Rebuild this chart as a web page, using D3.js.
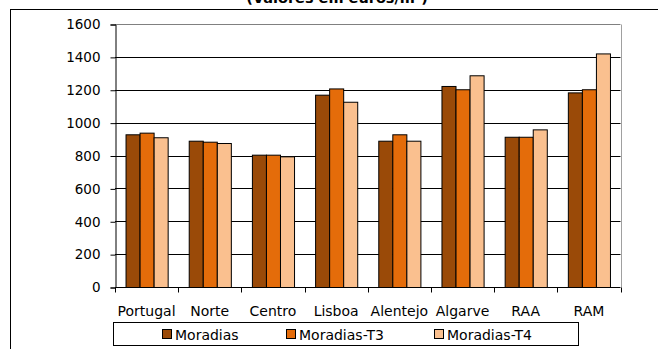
<!DOCTYPE html>
<html>
<head>
<meta charset="utf-8">
<script src="https://cdn.jsdelivr.net/npm/d3@7"></script>
<style>
  body { margin: 0; background: #fff; }
  svg { display: block; font-family: "DejaVu Sans", Verdana, sans-serif; }
</style>
</head>
<body>
<svg id="chart"></svg>
<script>
// dados
var regioes = ["Portugal", "Norte", "Centro", "Lisboa", "Alentejo", "Algarve", "RAA", "RAM"];
var series = ["Moradias", "Moradias-T3", "Moradias-T4"];
var moradias   = [929, 890, 805, 1170, 890, 1223, 914, 1184];
var moradiasT3 = [939, 884, 805, 1208, 929, 1203, 914, 1203];
var moradiasT4 = [911, 876, 795, 1127, 890, 1288, 959, 1421];
var yTicks = [0, 200, 400, 600, 800, 1000, 1200, 1400, 1600];
var cores = ["#9a4a08", "#e46c0a", "#fac08f"];

var width = 658;
var height = 349;
var margin = {top: 24, right: 37.5, bottom: 62, left: 115};

var svg = d3.select("#chart")
    .attr("width", width)
    .attr("height", height);

// moldura exterior
svg.append("rect")
    .attr("x", 10.5).attr("y", 9.5)
    .attr("width", 700).attr("height", 400)
    .attr("fill", "none").attr("stroke", "#000");

// título (cortado no topo)
svg.append("text")
    .attr("x", 337).attr("y", 3)
    .attr("text-anchor", "middle")
    .attr("font-weight", "bold")
    .attr("font-size", 14.5)
    .text("(Valores em euros/m²)");

var x0 = d3.scaleBand()
    .domain(regioes)
    .range([margin.left, width - margin.right])
    .paddingInner(1 / 3)
    .paddingOuter(1 / 6);

var x1 = d3.scaleBand()
    .domain(series)
    .range([0, x0.bandwidth()]);

var y = d3.scaleLinear()
    .domain([0, 1600])
    .range([height - margin.bottom, margin.top]);

// linhas de grelha
svg.append("g")
    .selectAll("line")
    .data(yTicks.slice(1))
    .join("line")
    .attr("x1", margin.left).attr("x2", width - margin.right)
    .attr("y1", d => Math.round(y(d)) + 0.5).attr("y2", d => Math.round(y(d)) + 0.5)
    .attr("stroke", d => d === 1600 ? "#808080" : "#000");

// borda direita da área do gráfico
svg.append("line")
    .attr("x1", Math.round(width - margin.right) + 0.5).attr("x2", Math.round(width - margin.right) + 0.5)
    .attr("y1", Math.round(y(1600)) + 0.5).attr("y2", Math.round(y(0)) + 0.5)
    .attr("stroke", "#a0a0a0");

// barras
var rows = regioes.map((r, i) => ({regiao: r, valores: [moradias[i], moradiasT3[i], moradiasT4[i]]}));

svg.append("g")
    .selectAll("g")
    .data(rows)
    .join("g")
    .attr("transform", d => `translate(${x0(d.regiao)},0)`)
    .selectAll("rect")
    .data(d => d.valores.map((v, k) => ({serie: series[k], valor: v, k: k})))
    .join("rect")
    .attr("x", d => x1(d.serie) + 0.5)
    .attr("y", d => y(d.valor) + 0.5)
    .attr("width", x1.bandwidth())
    .attr("height", d => y(0) - y(d.valor))
    .attr("fill", d => cores[d.k])
    .attr("stroke", "#000")
    .attr("stroke-width", 1);

// eixo y
var yAxis = svg.append("g")
    .attr("transform", `translate(${Math.round(margin.left) + 0.5},0.5)`)
    .call(d3.axisLeft(y).tickValues(yTicks).tickSize(5).tickPadding(10).tickFormat(d3.format("d")));
yAxis.selectAll("text").attr("font-size", 13.5).attr("fill", "#000").attr("font-family", "DejaVu Sans, sans-serif");
yAxis.selectAll("line, path").attr("stroke", "#000");

// eixo x: marcas entre as categorias
var baseY = Math.round(y(0)) + 0.5;
svg.append("line")
    .attr("x1", margin.left).attr("x2", width - margin.right)
    .attr("y1", baseY).attr("y2", baseY)
    .attr("stroke", "#000");

svg.append("g")
    .selectAll("line")
    .data(d3.range(regioes.length + 1))
    .join("line")
    .attr("x1", i => Math.round(x0.range()[0] + i * x0.step()) + 0.5)
    .attr("x2", i => Math.round(x0.range()[0] + i * x0.step()) + 0.5)
    .attr("y1", baseY).attr("y2", baseY + 5)
    .attr("stroke", "#000");

svg.append("g")
    .selectAll("text")
    .data(regioes)
    .join("text")
    .attr("x", d => x0(d) + x0.bandwidth() / 2)
    .attr("y", 316)
    .attr("text-anchor", "middle")
    .attr("font-size", 14)
    .text(d => d);

// legenda
svg.append("rect")
    .attr("x", 113.5).attr("y", 322.5)
    .attr("width", 465).attr("height", 23)
    .attr("fill", "#fff").attr("stroke", "#000");

var legendX = [162, 286, 434];
var legenda = svg.append("g")
    .selectAll("g")
    .data(series)
    .join("g")
    .attr("transform", (d, i) => `translate(${legendX[i]},0)`);

legenda.append("rect")
    .attr("x", 0.5).attr("y", 329.5)
    .attr("width", 9).attr("height", 9)
    .attr("fill", (d, i) => cores[i])
    .attr("stroke", "#000");

legenda.append("text")
    .attr("x", 13).attr("y", 340)
    .attr("font-size", 14)
    .text(d => d);
</script>
</body>
</html>
